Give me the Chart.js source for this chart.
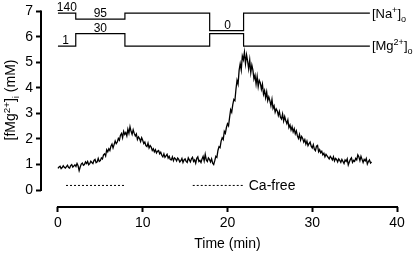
<!DOCTYPE html>
<html>
<head>
<meta charset="utf-8">
<script src="https://cdn.jsdelivr.net/npm/chart.js@4"></script>
<style>
  html, body { margin: 0; padding: 0; background: #fff; }
  canvas { display: block; }
</style>
</head>
<body>
<canvas id="mgChart" width="420" height="253"></canvas>
<script>
// Free intracellular Mg2+ during Na-free / high Mg perfusion

// sample spacing of the fluorescence trace (min)
const sampleStep = 0.125;

// [fMg2+]i (mM), one row per minute starting at t = 0
const mgTrace = [
  0.85, 0.90, 0.93, 0.84, 0.88, 0.95, 0.89, 0.86,
  0.92, 0.97, 0.88, 0.86, 0.96, 1.00, 0.90, 0.94,
  0.99, 0.92, 1.04, 0.95, 0.76, 0.90, 1.02, 1.06,
  0.97, 1.00, 1.10, 1.04, 1.12, 0.99, 1.03, 1.13,
  1.08, 1.04, 1.16, 1.20, 1.07, 1.10, 1.24, 1.12,
  1.15, 1.26, 1.22, 1.38, 1.42, 1.33, 1.58, 1.50,
  1.62, 1.55, 1.72, 1.80, 1.65, 1.78, 1.92, 1.82,
  1.88, 2.02, 1.95, 2.15, 2.22, 2.05, 2.30, 2.18,
  2.25, 2.12, 2.38, 2.22, 2.48, 2.30, 2.18, 2.36,
  2.22, 2.12, 2.20, 1.98, 2.08, 2.02, 1.90, 2.05,
  1.95, 1.82, 1.88, 1.74, 1.70, 1.84, 1.65, 1.74,
  1.68, 1.55, 1.62, 1.50, 1.58, 1.45, 1.52, 1.55,
  1.42, 1.48, 1.36, 1.30, 1.42, 1.28, 1.34, 1.40,
  1.25, 1.32, 1.20, 1.18, 1.30, 1.15, 1.26, 1.22,
  1.14, 1.25, 1.20, 1.10, 1.15, 1.24, 1.08, 1.18,
  1.22, 1.12, 1.08, 1.26, 1.18, 1.10, 1.22, 1.28,
  1.12, 1.18, 1.05, 1.24, 1.30, 1.12, 1.16, 1.08,
  1.22, 1.32, 1.14, 1.40, 1.18, 1.12, 1.26, 1.20,
  1.10, 1.22, 1.05, 1.00, 1.15, 1.32, 1.28, 1.55,
  1.70, 1.66, 1.92, 2.05, 1.98, 2.30, 2.22, 2.45,
  2.60, 2.52, 2.85, 3.15, 3.05, 3.35, 3.55, 3.50,
  3.95, 4.30, 4.15, 4.70, 4.95, 4.70, 5.25, 5.10,
  5.40, 4.95, 5.30, 5.05, 4.75, 5.10, 4.60, 4.90,
  4.70, 4.35, 4.50, 4.15, 4.45, 4.05, 4.30, 4.20,
  3.95, 4.15, 3.75, 3.90, 3.62, 3.85, 3.50, 3.65,
  3.50, 3.30, 3.55, 3.20, 3.30, 3.05, 3.18, 3.10,
  2.92, 3.08, 2.85, 2.78, 2.98, 2.70, 2.88, 2.72,
  2.60, 2.75, 2.45, 2.55, 2.35, 2.48, 2.28, 2.40,
  2.20, 2.32, 2.12, 2.02, 2.18, 1.96, 2.10, 2.02,
  1.88, 1.98, 1.80, 1.92, 1.74, 1.82, 1.88, 1.72,
  1.65, 1.78, 1.60, 1.54, 1.72, 1.75, 1.50, 1.58,
  1.46, 1.52, 1.38, 1.44, 1.30, 1.40, 1.34, 1.28,
  1.22, 1.32, 1.26, 1.18, 1.30, 1.14, 1.24, 1.20,
  1.10, 1.22, 1.16, 1.08, 1.20, 1.12, 1.04, 1.18,
  1.12, 1.22, 0.98, 1.10, 1.20, 1.26, 1.08, 1.16,
  1.12, 1.24, 1.18, 1.38, 1.30, 1.15, 1.32, 1.20,
  1.08, 1.20, 1.14, 1.24, 1.02, 1.12, 1.18, 1.06,
  1.10
];

// solution changes (min) and the trace levels drawn for them
const switchTimes = [0, 2.1, 7.9, 17.9, 21.9, 36.8];
const naLevels = [6.93, 6.70, 6.93, 6.25, 6.93, 6.93];
const mgLevels = [5.64, 6.13, 5.64, 6.13, 5.64, 5.64];

// concentrations written on the protocol traces (mM)
const naValueLabels = ['140', '95', '0'];
const naValueTimes = [1.05, 5.0, 20.0];
const naValueLevels = [6.93, 6.70, 6.25];
const mgValueLabels = ['1', '30'];
const mgValueTimes = [0.9, 5.0];
const mgValueLevels = [5.64, 6.13];

// Ca-free periods
const caFreeStarts = [0.95, 15.9];
const caFreeEnds = [8.0, 21.8];
const caFreeLevel = 0.18;

const yTicks = [0, 1, 2, 3, 4, 5, 6, 7];
const xTicks = [0, 10, 20, 30, 40];

const FONT = "'Liberation Sans', Arial, sans-serif";

const tracePoints = mgTrace.map((v, i) => ({ x: i * sampleStep, y: v }));
const stepPoints = levels => switchTimes.map((t, i) => ({ x: t, y: levels[i] }));

const caFreeSets = caFreeStarts.map((s, i) => ({
  data: [{ x: s, y: caFreeLevel }, { x: caFreeEnds[i], y: caFreeLevel }],
  borderColor: '#000',
  borderWidth: 1,
  borderDash: [2, 2],
  pointRadius: 0
}));

// draw text with super (1) / sub (-1) scripts
function drawRich(ctx, parts, x, y, size) {
  let cx = x;
  parts.forEach(p => {
    const s = p[1] ? size * 0.7 : size;
    const dy = p[1] === 1 ? -size * 0.38 : p[1] === -1 ? size * 0.28 : 0;
    ctx.font = s + 'px ' + FONT;
    ctx.fillText(p[0], cx, y + dy);
    cx += ctx.measureText(p[0]).width;
  });
  return cx - x;
}

function richWidth(ctx, parts, size) {
  return parts.reduce((w, p) => {
    ctx.font = (p[1] ? size * 0.7 : size) + 'px ' + FONT;
    return w + ctx.measureText(p[0]).width;
  }, 0);
}

const decorations = {
  id: 'decorations',
  afterDraw(chart) {
    const ctx = chart.ctx;
    const xs = chart.scales.x, ys = chart.scales.y;
    ctx.save();
    ctx.strokeStyle = '#000';
    ctx.fillStyle = '#000';
    ctx.lineWidth = 2;

    // offset axis lines
    const ax = chart.chartArea.left;
    ctx.beginPath();
    ctx.moveTo(ax, ys.getPixelForValue(7) - 1);
    ctx.lineTo(ax, ys.getPixelForValue(0) + 1);
    ctx.stroke();
    const ay = chart.chartArea.bottom;
    ctx.beginPath();
    ctx.moveTo(xs.getPixelForValue(0) - 1, ay);
    ctx.lineTo(xs.getPixelForValue(40) + 1, ay);
    ctx.stroke();

    // protocol values
    ctx.textAlign = 'center';
    ctx.textBaseline = 'alphabetic';
    ctx.font = '12px ' + FONT;
    naValueLabels.forEach((l, i) => {
      ctx.fillText(l, xs.getPixelForValue(naValueTimes[i]), ys.getPixelForValue(naValueLevels[i]) - 2);
    });
    mgValueLabels.forEach((l, i) => {
      ctx.fillText(l, xs.getPixelForValue(mgValueTimes[i]), ys.getPixelForValue(mgValueLevels[i]) - 2);
    });

    // trace names
    ctx.textAlign = 'left';
    const endX = xs.getPixelForValue(switchTimes[switchTimes.length - 1]) + 2;
    drawRich(ctx, [['[Na'], ['+', 1], [']'], ['o', -1]], endX, ys.getPixelForValue(naLevels[0]) + 5, 13);
    drawRich(ctx, [['[Mg'], ['2+', 1], [']'], ['o', -1]], endX, ys.getPixelForValue(mgLevels[0]) + 4, 13);

    // Ca-free label
    ctx.font = '14px ' + FONT;
    ctx.fillText('Ca-free', xs.getPixelForValue(caFreeEnds[1]) + 6, ys.getPixelForValue(caFreeLevel) + 5);

    // x title
    ctx.textAlign = 'center';
    ctx.fillText('Time (min)', xs.getPixelForValue(20), 248);

    // y title
    const yParts = [['[fMg'], ['2+', 1], [']'], ['i', -1], [' (mM)']];
    const w = richWidth(ctx, yParts, 14);
    ctx.textAlign = 'left';
    ctx.translate(15, 100 + w / 2);
    ctx.rotate(-Math.PI / 2);
    drawRich(ctx, yParts, 0, 0, 14);
    ctx.restore();
  }
};

new Chart(document.getElementById('mgChart'), {
  type: 'line',
  data: {
    datasets: [
      {
        data: tracePoints,
        borderColor: '#000',
        borderWidth: 1.3,
        pointRadius: 0,
        tension: 0
      },
      {
        data: stepPoints(naLevels),
        borderColor: '#000',
        borderWidth: 1.2,
        pointRadius: 0,
        stepped: 'before'
      },
      {
        data: stepPoints(mgLevels),
        borderColor: '#000',
        borderWidth: 1.2,
        pointRadius: 0,
        stepped: 'before'
      },
      ...caFreeSets
    ]
  },
  plugins: [decorations],
  options: {
    responsive: false,
    animation: false,
    clip: false,
    layout: {
      padding: { top: 10, right: 23, bottom: 0, left: 0 }
    },
    plugins: {
      legend: { display: false },
      tooltip: { enabled: false }
    },
    scales: {
      x: {
        type: 'linear',
        min: -2,
        max: 40,
        afterBuildTicks: s => { s.ticks = xTicks.map(v => ({ value: v })); },
        afterFit: s => { s.height = 46; },
        border: { display: false },
        grid: {
          drawOnChartArea: false,
          drawTicks: true,
          tickLength: 5,
          tickWidth: 2,
          color: '#000'
        },
        ticks: {
          color: '#000',
          font: { family: FONT, size: 14 },
          padding: 3,
          maxRotation: 0
        }
      },
      y: {
        type: 'linear',
        min: -0.665,
        max: 7,
        afterBuildTicks: s => { s.ticks = yTicks.map(v => ({ value: v })); },
        afterFit: s => { s.width = 41; },
        border: { display: false },
        grid: {
          drawOnChartArea: false,
          drawTicks: true,
          tickLength: 5,
          tickWidth: 2,
          color: '#000'
        },
        ticks: {
          color: '#000',
          font: { family: FONT, size: 14 },
          padding: 3
        }
      }
    }
  }
});
</script>
</body>
</html>
